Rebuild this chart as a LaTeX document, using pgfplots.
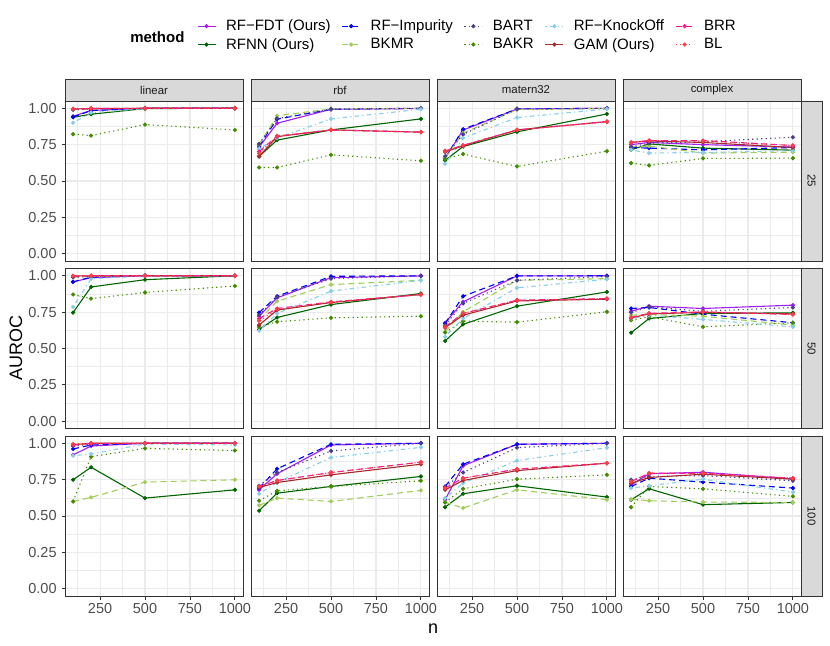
\documentclass[border=0pt]{standalone}
\usepackage{pgfplots}
\pgfplotsset{compat=1.18}
\usepackage{pgfplotstable}
\usepackage{fontspec}
\setmainfont{Liberation Sans}
\definecolor{cFDT}{HTML}{A020F0}
\definecolor{cRFNN}{HTML}{006400}
\definecolor{cIMP}{HTML}{0000FF}
\definecolor{cBKMR}{HTML}{A2CD5A}
\definecolor{cBART}{HTML}{483D8B}
\definecolor{cBAKR}{HTML}{458B00}
\definecolor{cKO}{HTML}{87CEEB}
\definecolor{cGAM}{HTML}{A52A2A}
\definecolor{cBRR}{HTML}{FF1493}
\definecolor{cBL}{HTML}{FF4040}
\definecolor{gridc}{HTML}{EBEBEB}
\definecolor{g20}{HTML}{333333}
\definecolor{g30}{HTML}{4D4D4D}
\definecolor{g10}{HTML}{1A1A1A}
\definecolor{stripc}{HTML}{D9D9D9}

\newcommand{\tickfont}{\fontsize{14.5bp}{17bp}\selectfont}
\newcommand{\stripfont}{\fontsize{11.4bp}{13bp}\selectfont}
\newcommand{\titlefont}{\fontsize{18bp}{21bp}\selectfont}

\pgfplotsset{
 sFDT/.style={color=cFDT, solid, line width=1.1bp, mark=*, mark size=1.5bp, mark options={solid}},
 sRFNN/.style={color=cRFNN, solid, line width=1.1bp, mark=*, mark size=1.5bp, mark options={solid}},
 sIMP/.style={color=cIMP, dash pattern=on 6bp off 4bp, line width=1.1bp, mark=*, mark size=1.5bp, mark options={solid}},
 sBKMR/.style={color=cBKMR, dash pattern=on 6bp off 4bp, line width=1.1bp, mark=*, mark size=1.5bp, mark options={solid}},
 sBART/.style={color=cBART, dash pattern=on 1.2bp off 3.3bp, line width=1.1bp, mark=*, mark size=1.5bp, mark options={solid}},
 sBAKR/.style={color=cBAKR, dash pattern=on 1.2bp off 3.3bp, line width=1.1bp, mark=*, mark size=1.5bp, mark options={solid}},
 sKO/.style={color=cKO, dash pattern=on 1.2bp off 3.3bp on 4.4bp off 3.3bp, line width=1.1bp, mark=*, mark size=1.5bp, mark options={solid}},
 sGAM/.style={color=cGAM, solid, line width=1.1bp, mark=*, mark size=1.5bp, mark options={solid}},
 sBRR/.style={color=cBRR, dash pattern=on 6bp off 4bp, line width=1.1bp, mark=*, mark size=1.5bp, mark options={solid}},
 sBL/.style={color=cBL, dash pattern=on 1.2bp off 3.3bp, line width=1.1bp, mark=*, mark size=1.5bp, mark options={solid}},
 panel/.style={
  scale only axis, width=178bp, height=160bp, anchor=south west,
  xmin=55, xmax=1045, ymin=-0.05, ymax=1.05,
  xtick={250,500,750,1000}, ytick={0,0.25,0.5,0.75,1},
  minor xtick={125,375,625,875}, minor ytick={0.125,0.375,0.625,0.875},
  grid=both,
  major grid style={draw=gridc, line width=1.1bp},
  minor grid style={draw=gridc, line width=0.55bp},
  axis line style={draw=g20, line width=0.9bp},
  tick align=outside, major tick length=3.5bp, minor tick length=0pt,
  xtick pos=lower, ytick pos=left,
  every tick/.style={draw=g20, line width=0.9bp},
  xticklabels={}, yticklabels={},
  /pgf/number format/assume math mode=true,
  xticklabel style={font=\tickfont, text=g30, inner sep=0pt, yshift=-3.8bp},
  yticklabel style={font=\tickfont, text=g30, inner sep=0pt, xshift=-4.7bp},
  axis background/.style={fill=white},
 },
 ylab/.style={yticklabels={0.00,0.25,0.50,0.75,1.00}},
 xlab/.style={xticklabels={250,500,750,1000}},
 noy/.style={ytick style={draw=none}},
 nox/.style={xtick style={draw=none}},
}

\newcommand{\panel}[4]{%
 \begin{axis}[panel, at={(#2bp,#3bp)}, #4]
  \addplot[sFDT] table[x=n,y=fdt]{#1};
  \addplot[sRFNN] table[x=n,y=rfnn]{#1};
  \addplot[sIMP] table[x=n,y=imp]{#1};
  \addplot[sBKMR] table[x=n,y=bkmr]{#1};
  \addplot[sBART] table[x=n,y=bart]{#1};
  \addplot[sBAKR] table[x=n,y=bakr]{#1};
  \addplot[sKO] table[x=n,y=ko]{#1};
  \addplot[sGAM] table[x=n,y=gam]{#1};
  \addplot[sBRR] table[x=n,y=brr]{#1};
  \addplot[sBL] table[x=n,y=bl]{#1};
 \end{axis}}

% row 25
\pgfplotstableread{
n fdt rfnn imp bkmr bart bakr ko gam brr bl
100 0.945 0.938 0.940 0.990 0.990 0.822 0.900 0.995 0.995 0.997
200 0.985 0.959 0.984 0.995 0.995 0.812 0.970 0.998 0.998 0.999
500 1.000 0.998 1.000 1.000 1.000 0.888 0.998 1.000 1.000 1.000
1000 1.000 1.000 1.000 1.000 1.000 0.851 1.000 1.000 1.000 1.000
}\tLinA
\pgfplotstableread{
n fdt rfnn imp bkmr bart bakr ko gam brr bl
100 0.733 0.669 0.742 0.750 0.755 0.593 0.721 0.669 0.703 0.690
200 0.897 0.781 0.925 0.949 0.930 0.593 0.795 0.805 0.808 0.810
500 0.993 0.851 0.993 0.995 0.995 0.680 0.927 0.851 0.851 0.851
1000 0.998 0.927 1.000 1.000 1.000 0.639 0.993 0.836 0.836 0.836
}\tRbfA
\pgfplotstableread{
n fdt rfnn imp bkmr bart bakr ko gam brr bl
100 0.657 0.641 0.657 0.660 0.670 0.650 0.618 0.700 0.707 0.707
200 0.850 0.737 0.856 0.829 0.820 0.685 0.795 0.742 0.745 0.745
500 0.995 0.838 0.995 0.990 0.995 0.600 0.936 0.851 0.851 0.851
1000 1.000 0.961 1.000 0.998 1.000 0.705 0.995 0.908 0.908 0.908
}\tMatA
\pgfplotstableread{
n fdt rfnn imp bkmr bart bakr ko gam brr bl
100 0.750 0.714 0.730 0.735 0.733 0.623 0.714 0.765 0.765 0.765
200 0.765 0.755 0.726 0.740 0.760 0.607 0.692 0.775 0.778 0.778
500 0.750 0.726 0.714 0.692 0.770 0.655 0.696 0.765 0.778 0.775
1000 0.733 0.712 0.730 0.698 0.801 0.657 0.708 0.730 0.744 0.744
}\tComA
% row 50
\pgfplotstableread{
n fdt rfnn imp bkmr bart bakr ko gam brr bl
100 0.958 0.747 0.958 0.990 0.990 0.871 0.786 0.998 0.998 0.999
200 0.987 0.923 0.990 0.995 0.995 0.843 0.980 1.000 1.000 1.000
500 1.000 0.973 1.000 1.000 1.000 0.885 0.998 1.000 1.000 1.000
1000 1.000 1.000 1.000 1.000 1.000 0.930 1.000 1.000 1.000 1.000
}\tLinB
\pgfplotstableread{
n fdt rfnn imp bkmr bart bakr ko gam brr bl
100 0.722 0.631 0.747 0.695 0.730 0.649 0.622 0.661 0.706 0.690
200 0.848 0.713 0.859 0.825 0.855 0.684 0.741 0.764 0.775 0.770
500 0.987 0.802 0.996 0.939 0.980 0.711 0.894 0.816 0.820 0.820
1000 0.999 0.878 1.000 0.969 1.000 0.722 0.969 0.871 0.871 0.871
}\tRbfB
\pgfplotstableread{
n fdt rfnn imp bkmr bart bakr ko gam brr bl
100 0.677 0.552 0.672 0.615 0.660 0.610 0.581 0.643 0.649 0.649
200 0.821 0.666 0.859 0.752 0.810 0.688 0.706 0.729 0.741 0.741
500 0.999 0.791 0.999 0.969 0.969 0.681 0.917 0.827 0.832 0.832
1000 1.000 0.889 1.000 0.980 0.995 0.752 0.976 0.839 0.843 0.843
}\tMatB
\pgfplotstableread{
n fdt rfnn imp bkmr bart bakr ko gam brr bl
100 0.756 0.608 0.775 0.729 0.747 0.695 0.706 0.711 0.713 0.713
200 0.791 0.706 0.782 0.734 0.786 0.718 0.729 0.738 0.741 0.741
500 0.775 0.741 0.736 0.722 0.756 0.649 0.700 0.748 0.752 0.752
1000 0.798 0.745 0.677 0.661 0.782 0.677 0.649 0.738 0.734 0.734
}\tComB
% row 100
\pgfplotstableread{
n fdt rfnn imp bkmr bart bakr ko gam brr bl
100 0.920 0.749 0.961 0.600 0.980 0.600 0.915 0.990 0.988 0.995
200 0.981 0.835 0.988 0.628 0.995 0.908 0.927 1.000 0.998 1.000
500 1.000 0.623 1.000 0.733 1.000 0.965 0.995 1.000 1.000 1.000
1000 1.000 0.680 1.000 0.749 1.000 0.950 0.988 1.000 1.000 1.000
}\tLinC
\pgfplotstableread{
n fdt rfnn imp bkmr bart bakr ko gam brr bl
100 0.680 0.536 0.692 0.573 0.708 0.605 0.653 0.696 0.703 0.703
200 0.790 0.657 0.824 0.623 0.799 0.673 0.730 0.730 0.744 0.744
500 0.988 0.703 0.993 0.600 0.947 0.703 0.902 0.783 0.799 0.799
1000 1.000 0.772 1.000 0.676 1.000 0.742 0.972 0.856 0.870 0.870
}\tRbfC
\pgfplotstableread{
n fdt rfnn imp bkmr bart bakr ko gam brr bl
100 0.612 0.561 0.703 0.595 0.699 0.593 0.623 0.680 0.692 0.692
200 0.845 0.653 0.856 0.555 0.799 0.687 0.726 0.744 0.760 0.760
500 0.993 0.708 0.993 0.680 0.970 0.753 0.881 0.812 0.822 0.822
1000 1.000 0.630 1.000 0.612 1.000 0.783 0.970 0.863 0.863 0.863
}\tMatC
\pgfplotstableread{
n fdt rfnn imp bkmr bart bakr ko gam brr bl
100 0.714 0.612 0.703 0.616 0.749 0.561 0.692 0.725 0.737 0.737
200 0.790 0.687 0.760 0.605 0.772 0.703 0.708 0.765 0.794 0.794
500 0.801 0.578 0.733 0.596 0.778 0.687 0.753 0.787 0.794 0.794
1000 0.755 0.593 0.692 0.593 0.742 0.635 0.664 0.753 0.760 0.760
}\tComC

\begin{document}
\begin{tikzpicture}
\useasboundingbox (0,0) rectangle (830bp,646bp);

\panel{\tLinA}{65}{385}{ylab,nox}
\panel{\tRbfA}{251}{385}{noy,nox}
\panel{\tMatA}{437}{385}{noy,nox}
\panel{\tComA}{623}{385}{noy,nox}

\panel{\tLinB}{65}{217.5}{ylab,nox}
\panel{\tRbfB}{251}{217.5}{noy,nox}
\panel{\tMatB}{437}{217.5}{noy,nox}
\panel{\tComB}{623}{217.5}{noy,nox}

\panel{\tLinC}{65}{50}{ylab,xlab}
\panel{\tRbfC}{251}{50}{noy,xlab}
\panel{\tMatC}{437}{50}{noy,xlab}
\panel{\tComC}{623}{50}{noy,xlab}

% strips
\foreach \xl/\lab in {65/linear,251/rbf,437/matern32,623/complex}{
  \draw[fill=stripc, draw=g20, line width=0.9bp] (\xl bp,545bp) rectangle ++(178bp,22bp);
  \node[font=\stripfont, text=g10] at ([xshift=89bp]\xl bp,556bp) {\lab};
}
\foreach \yb/\lab in {385/25,217.5/50,50/100}{
  \draw[fill=stripc, draw=g20, line width=0.9bp] (801bp,\yb bp) rectangle ++(21bp,160bp);
  \node[font=\stripfont, text=g10, rotate=-90] at (811.5bp,\yb bp+80bp) {\lab};
}

% axis titles
\node[font=\titlefont, rotate=90] at (16bp,298bp) {AUROC};
\node[font=\titlefont] at (433bp,17bp) {n};
\node[font=\fontsize{15bp}{18bp}\selectfont\bfseries, anchor=east] at (188bp,609bp) {method};

% legend
\begin{axis}[at={(0bp,0bp)}, anchor=south west, scale only axis, width=830bp, height=646bp,
  hide axis, xmin=0, xmax=1, ymin=0, ymax=1,
  legend columns=5,
  legend image code/.code={\draw[mark repeat=2,mark phase=2,#1] plot coordinates {(0bp,0bp) (9bp,0bp) (18bp,0bp)};},
  legend style={at={(0.2373,0.9690)}, anchor=north west, draw=none, fill=none,
    inner sep=0pt, outer sep=0pt, font=\fontsize{15bp}{18bp}\selectfont,
    row sep=6bp,
    nodes={inner sep=0pt},
    /tikz/every odd column/.append style={column sep=10bp},
    /tikz/every even column/.append style={column sep=11bp}},
  legend cell align=left]
\addlegendimage{sFDT}\addlegendentry{RF−FDT (Ours)}
\addlegendimage{sIMP}\addlegendentry{RF−Impurity}
\addlegendimage{sBART}\addlegendentry{BART}
\addlegendimage{sKO}\addlegendentry{RF−KnockOff}
\addlegendimage{sBRR}\addlegendentry{BRR}
\addlegendimage{sRFNN}\addlegendentry{RFNN (Ours)}
\addlegendimage{sBKMR}\addlegendentry{BKMR}
\addlegendimage{sBAKR}\addlegendentry{BAKR}
\addlegendimage{sGAM}\addlegendentry{GAM (Ours)}
\addlegendimage{sBL}\addlegendentry{BL}
\end{axis}
\end{tikzpicture}
\end{document}
